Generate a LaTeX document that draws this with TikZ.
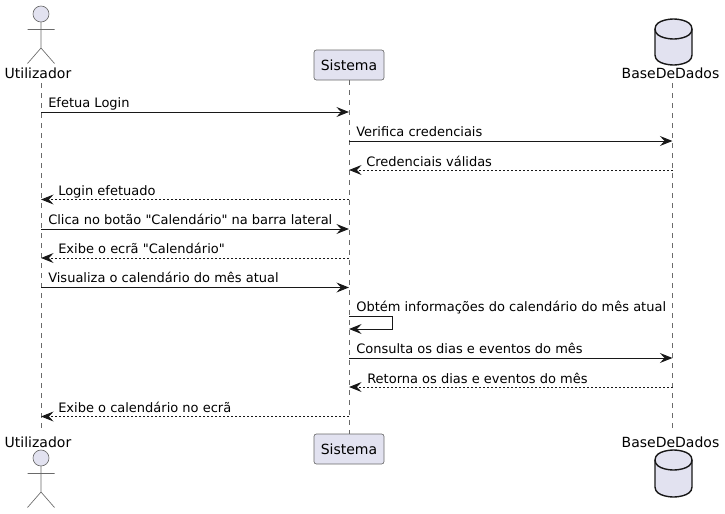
\documentclass[tikz,border=0pt]{standalone}
\usepackage{fontspec}
\setmainfont{DejaVu Sans}
\newfontfamily\plaindejavu{DejaVu Sans}
\usetikzlibrary{arrows.meta}
\definecolor{partfill}{HTML}{E2E2F0}
\definecolor{inkline}{HTML}{181818}
\definecolor{thinline}{HTML}{6A6A6A}
\tikzset{
  x=0.75pt,y=-0.75pt,
  lifeline/.style={draw=thinline,line width=0.4pt,dash pattern=on 3.75pt off 3.75pt},
  msg/.style={draw=inkline,line width=0.75pt,-{Stealth[length=9.5pt,width=7.5pt,inset=3.6pt]}},
  reply/.style={msg,dash pattern=on 1.5pt off 1.5pt},
  msglabel/.style={anchor=base west,inner sep=0pt,font=\plaindejavu\fontsize{9.75pt}{11pt}\selectfont,text=black},
  partlabel/.style={inner sep=0pt,font=\plaindejavu\fontsize{10.5pt}{12pt}\selectfont,text=black},
  partbox/.style={draw=thinline,line width=0.5pt,fill=partfill,rounded corners=1.8pt,minimum width=52.5pt,minimum height=22.5pt,inner sep=0pt,font=\plaindejavu\fontsize{10.5pt}{12pt}\selectfont},
  actorhead/.style={draw=thinline,line width=0.5pt,fill=partfill},
  actorline/.style={draw=thinline,line width=0.5pt},
  dbshape/.style={draw=inkline,line width=1.05pt,fill=partfill},
}
\newcommand{\stickman}[2]{%
  \draw[actorhead] (#1,#2) circle[radius=6pt];
  \draw[actorline] (#1,#2+8) -- (#1,#2+34)
     (#1-13.5,#2+15.5) -- (#1+13.5,#2+15.5)
     (#1-13.5,#2+49.5) -- (#1,#2+34) -- (#1+13.5,#2+49.5);
}
\newcommand{\dbcyl}[2]{%
  \draw[dbshape] (655,#1+10)
    .. controls (655,#1) and (673.5,#1) .. (673.5,#1)
    .. controls (673.5,#1) and (692,#1) .. (692,#1+10)
    -- (692,#2-10)
    .. controls (692,#2) and (673.5,#2) .. (673.5,#2)
    .. controls (673.5,#2) and (655,#2) .. (655,#2-10) -- cycle;
  \draw[dbshape,fill=none] (655,#1+10)
    .. controls (655,#1+20) and (673.5,#1+20) .. (673.5,#1+20)
    .. controls (673.5,#1+20) and (692,#1+20) .. (692,#1+10);
}
\begin{document}
\begin{tikzpicture}
\useasboundingbox (0,0) rectangle (725,514);
% lifeline ends
\coordinate (ut) at (41,83);
\coordinate (ub) at (41,433);
\coordinate (bt) at (672.5,83);
\coordinate (bb) at (672.5,433);
\node[partbox] (st) at (349,65) {Sistema};
\node[partbox] (sb) at (349,449) {Sistema};
\draw[lifeline] (ut) -- (ub);
\draw[lifeline] (st.south) -- (sb.north);
\draw[lifeline] (bt) -- (bb);
% actors
\stickman{41}{14}
\stickman{41}{458}
\node[partlabel] (ul1) at (38,73) {Utilizador};
\node[partlabel] (ul2) at (38,442) {Utilizador};
% databases
\dbcyl{19}{65}
\dbcyl{450}{497}
\node[partlabel] (bl1) at (670.5,73) {BaseDeDados};
\node[partlabel] (bl2) at (670.5,442) {BaseDeDados};
% message levels
\coordinate (m1) at (0,112);
\coordinate (m2) at (0,141);
\coordinate (m3) at (0,170);
\coordinate (m4) at (0,199.5);
\coordinate (m5) at (0,229);
\coordinate (m6) at (0,258);
\coordinate (m7) at (0,287.5);
\coordinate (m8) at (392,316.5);
\coordinate (m8b) at (392,329);
\coordinate (m9) at (0,358);
\coordinate (m10) at (0,387);
\coordinate (m11) at (0,416.5);
% messages
\draw[msg] (ut |- m1) -- (st |- m1);
\draw[msg] (st |- m2) -- (bt |- m2);
\draw[reply] (bt |- m3) -- (st |- m3);
\draw[reply] (st |- m4) -- (ut |- m4);
\draw[msg] (ut |- m5) -- (st |- m5);
\draw[reply] (st |- m6) -- (ut |- m6);
\draw[msg] (ut |- m7) -- (st |- m7);
\draw[msg] (st |- m8) -- (m8) -- (m8b) -- (st |- m8b);
\draw[msg] (st |- m9) -- (bt |- m9);
\draw[reply] (bt |- m10) -- (st |- m10);
\draw[reply] (st |- m11) -- (ut |- m11);
% labels
\node[msglabel] (t1) at (48,107) {Efetua Login};
\node[msglabel] (t2) at (356,136) {Verifica credenciais};
\node[msglabel] (t3) at (366,166) {Credenciais válidas};
\node[msglabel] (t4) at (58,195) {Login efetuado};
\node[msglabel] (t5) at (48,224) {Clica no botão "Calendário" na barra lateral};
\node[msglabel] (t6) at (58,253) {Exibe o ecrã "Calendário"};
\node[msglabel] (t7) at (48,282) {Visualiza o calendário do mês atual};
\node[msglabel] (t8) at (356,311) {Obtém informações do calendário do mês atual};
\node[msglabel] (t9) at (356,353) {Consulta os dias e eventos do mês};
\node[msglabel] (t10) at (367,383) {Retorna os dias e eventos do mês};
\node[msglabel] (t11) at (58,412) {Exibe o calendário no ecrã};
\end{tikzpicture}
\end{document}
